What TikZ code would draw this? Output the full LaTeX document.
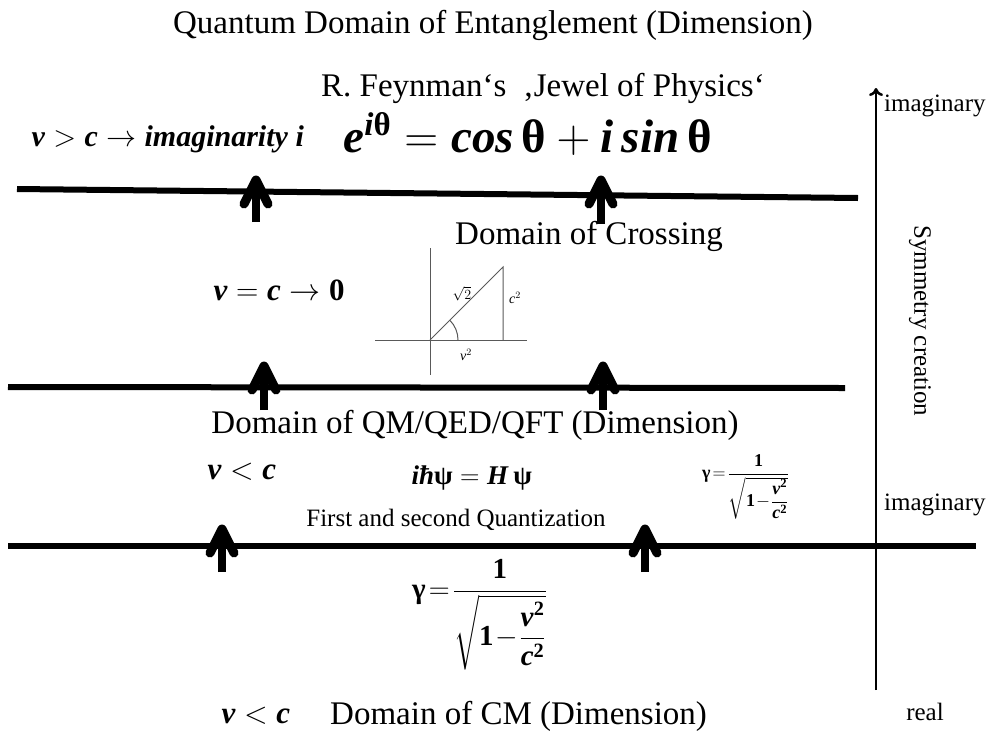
\RequirePackage{fix-cm}
\documentclass[tikz,border=0pt]{standalone}
\usepackage{amsmath}
\usepackage{fontspec}
\setmainfont{Liberation Serif}
\usetikzlibrary{arrows.meta}
\newcommand{\bfi}[1]{\textbf{\textit{#1}}}
\newcommand{\bfu}[1]{\textbf{#1}}

\begin{document}
\begin{tikzpicture}[x=1pt,y=-1pt,
  lbl/.style={font=\fontsize{33}{38}\selectfont,inner sep=0pt},
  sml/.style={font=\fontsize{25}{30}\selectfont,inner sep=0pt},
  bar/.style={line width=6pt},
  shaft/.style={line width=8pt},
  chev/.style={line width=9pt,line cap=round,line join=round},
  imaxis/.style={line width=2.5pt,-{To[length=8pt,width=14pt]}},
  tri/.style={black!65,line width=1pt}]
  \useasboundingbox (0,0) rectangle (992,731);
  % domain borders
  \draw[bar] (17,189) -- (858,198);
  \draw[bar] (8,387) -- (845,388);
  \draw[bar] (8,546) -- (976,546);
  % arrows through the borders
  \foreach \n/\x/\yt/\yb in {1/256/180/222, 2/601/180/224, 3/264/366/410,
                            4/603/366/410, 5/222/529/572, 6/645/529/572}{
    \coordinate (b\n) at (\x,\yb);
    \coordinate (t\n) at (\x,\yt);
    \draw[shaft] (b\n) -- (t\n);
    \draw[chev] (t\n) ++(-12,24) -- (t\n) -- ++(12,24);
  }
  % real / imaginary axis
  \draw[imaxis] (876,690) coordinate (re) -- (876,88) coordinate (im);
  \node[sml,anchor=west] (im1) at (884,106) {imaginary};
  \node[sml,rotate=-90] (sym) at (920,321) {Symmetry creation};
  \node[sml,anchor=west] (im2) at (884,505) {imaginary};
  \node[sml] (real) at (925,712) {real};
  % titles
  \node[lbl] (title) at (493,25) {Quantum Domain of Entanglement (Dimension)};
  \node[lbl] (feyn) at (543,88) {R. Feynman‘s \ ‚Jewel of Physics‘};
  \node[lbl] (cross) at (589,236) {Domain of Crossing};
  \node[lbl] (qm) at (475,425) {Domain of QM/QED/QFT (Dimension)};
  \node[lbl,anchor=west] (cm) at (330,716) {Domain of CM (Dimension)};
  \node[sml] (quant) at (456,520) {First and second Quantization};
  % formulas
  \node[font=\fontsize{30}{34}\selectfont,anchor=west] (vgc) at (28,139)
    {$\bfi{v} > \bfi{c} \rightarrow \bfi{imaginarity}\ \bfi{i}$};
  \node[font=\fontsize{47}{54}\selectfont,anchor=west] (euler) at (340,134)
    {$\bfi{e}^{\bfi{i}\bfu{θ}} = \bfi{cos}\,\bfu{θ} + \bfi{i}\,\bfi{sin}\,\bfu{θ}$};
  \node[font=\fontsize{31}{36}\selectfont,anchor=west] (vc0) at (210,290)
    {$\bfi{v} = \bfi{c} \rightarrow \bfu{0}$};
  \node[font=\fontsize{31}{36}\selectfont,anchor=west] (vlc) at (204,472)
    {$\bfi{v} < \bfi{c}$};
  \node[font=\fontsize{27}{32}\selectfont,anchor=west] (schr) at (408,478)
    {$\bfi{iħ}\bfu{ψ} = \bfi{H}\,\bfu{ψ}$};
  \node[font=\fontsize{18}{21}\selectfont,anchor=west,inner sep=0pt] (gsm) at (702,487)
    {$\bfu{γ}\!=\!\dfrac{\bfu{1}}{\sqrt{\bfu{1}\!-\!\dfrac{\bfi{v}^{\bfu{2}}}{\bfi{c}^{\bfu{2}}}}}$};
  \node[font=\fontsize{29}{34}\selectfont,anchor=west,inner sep=0pt] (gbig) at (412,615)
    {$\bfu{γ}\!=\!\dfrac{\bfu{1}}{\sqrt{\bfu{1}\!-\!\dfrac{\bfi{v}^{\bfu{2}}}{\bfi{c}^{\bfu{2}}}}}$};
  \node[font=\fontsize{31}{36}\selectfont,anchor=west] (vlc2) at (218,716)
    {$\bfi{v} < \bfi{c}$};
  % small triangle sketch
  \coordinate (O) at (430,340);
  \draw[tri] (375,340) -- (527,340);
  \draw[tri] (430,248) -- (430,375);
  \draw[tri] (O) -- (503,267) -- (503,340);
  \draw[tri] (458,340) arc[start angle=0,end angle=45,radius=28pt];
  \node[font=\fontsize{14}{16}\selectfont] (r2) at (462,294) {$\sqrt{2}$};
  \node[font=\fontsize{14}{16}\selectfont] (c2) at (515,298) {$\textit{c}^2$};
  \node[font=\fontsize{14}{16}\selectfont] (v2) at (466,355) {$\textit{v}^2$};
\end{tikzpicture}
\end{document}
